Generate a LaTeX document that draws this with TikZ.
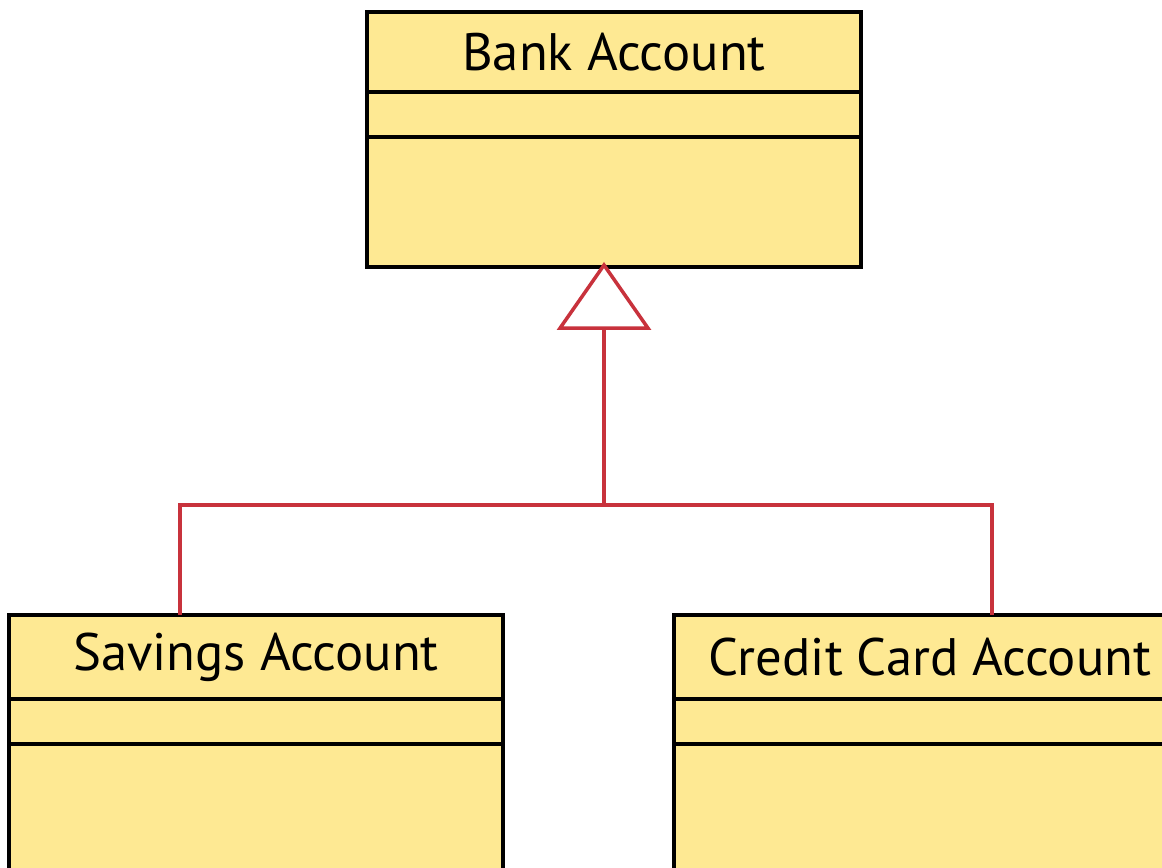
\documentclass[tikz,border=0pt]{standalone}
\usepackage{fontspec}
\setmainfont{PT Sans}
\usetikzlibrary{positioning,arrows.meta}
\definecolor{classfill}{RGB}{254,233,147}
\definecolor{genred}{RGB}{200,50,60}

\begin{document}
\begin{tikzpicture}[
    x=0.02cm, y=-0.02cm,
    cls/.style={draw=black, line width=2.2pt, fill=classfill, inner sep=0pt,
        outer sep=0pt, anchor=north west, font=\fontsize{30}{30}\selectfont},
    gen/.style={draw=genred, line width=2pt}
]
\useasboundingbox (0,0) rectangle (1162,867);
\clip (0,0) rectangle (1162,867);

\foreach \n/\x/\y/\w/\h/\o/\t in {bank/367/12/9.88/1.6/2.6/Bank Account,
    sav/9/615/9.88/1.68/3.0/Savings Account,
    cc/674/615/10.24/1.68/3.0/Credit Card Account}{
  \node[cls, minimum width=\w cm, minimum height=\h cm] (\n) at (\x,\y) {\t};
  \node[cls, minimum width=\w cm, minimum height=0.9cm, below=0pt of \n] (\n-att) {};
  \node[cls, minimum width=\w cm, minimum height=\o cm, below=0pt of \n-att] (\n-op) {};
}

\coordinate (jn) at (604,505);
\coordinate (sav-in) at (180,615);
\coordinate (cc-in) at (992,615);

\draw[gen, -{Triangle[open, fill=white, length=1.36cm, width=1.88cm]}] (jn) -- ([yshift=0.1cm]jn |- bank-op.south);
\draw[gen] (sav-in) |- (jn) -| (cc-in);

\end{tikzpicture}
\end{document}
